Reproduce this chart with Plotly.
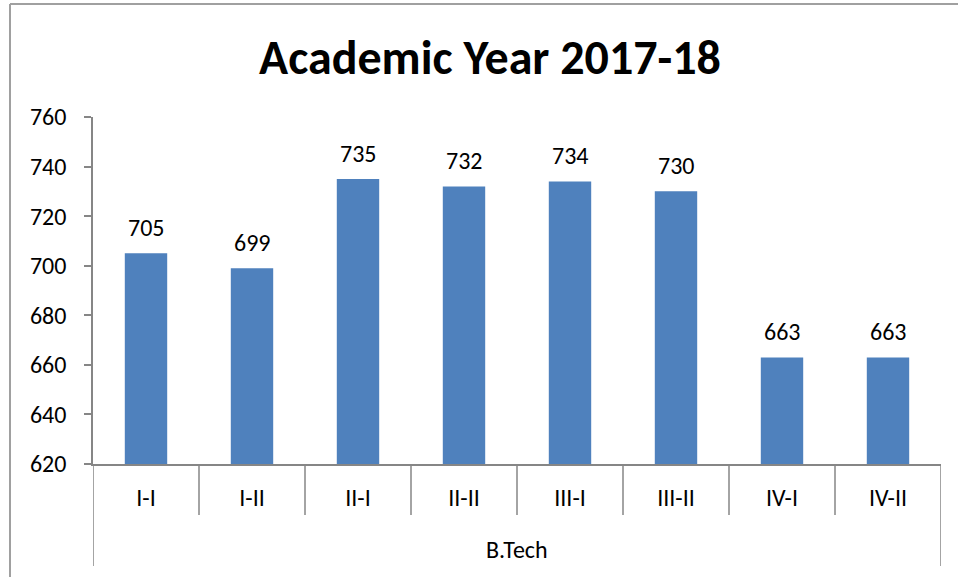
import plotly.graph_objects as go

categories = ["I-I", "I-II", "II-I", "II-II", "III-I", "III-II", "IV-I", "IV-II"]
values = [705, 699, 735, 732, 734, 730, 663, 663]
group_label = "B.Tech"
title_text = "Academic Year 2017-18"
y_ticks = [620, 640, 660, 680, 700, 720, 740, 760]

W, H = 958, 577
L, R, T, B = 93, 17, 117, 113
pw, ph = W - L - R, H - T - B

def px_x(p):
    return (p - L) / pw

def px_y(p):
    return (H - B - p) / ph

FONT = "Calibri, Carlito, Open Sans, sans-serif"
GRAY = "#868686"

fig = go.Figure(go.Bar(
    x=list(range(len(categories))), y=values,
    marker=dict(color="#4F81BD", line=dict(width=0)),
    width=0.4, hoverinfo="x+y",
))

shapes = []
n = len(categories)
for i in range(n + 1):
    bottom = px_y(566) if i in (0, n) else px_y(515)
    shapes.append(dict(type="line", xref="x", yref="paper",
                       x0=i - 0.5, x1=i - 0.5, y0=0, y1=bottom,
                       line=dict(color=GRAY, width=1.5)))
# outer chart border (left and top)
shapes.append(dict(type="line", xref="paper", yref="paper",
                   x0=px_x(10), x1=px_x(10), y0=px_y(4), y1=px_y(600),
                   line=dict(color="#A0A0A0", width=2)))
shapes.append(dict(type="line", xref="paper", yref="paper",
                   x0=px_x(10), x1=px_x(990), y0=px_y(4), y1=px_y(4),
                   line=dict(color="#A0A0A0", width=2)))

annotations = [dict(text=group_label, xref="paper", yref="paper",
                    x=0.5, y=px_y(549), yanchor="middle", showarrow=False,
                    font=dict(family=FONT, size=24, color="black"))]
for i, v in enumerate(values):
    annotations.append(dict(text=str(v), x=i, y=v, xref="x", yref="y",
                            yanchor="bottom", yshift=9, showarrow=False,
                            font=dict(family=FONT, size=24, color="black")))

fig.update_layout(
    width=W, height=H,
    margin=dict(l=L, r=R, t=T, b=B),
    paper_bgcolor="white", plot_bgcolor="white",
    showlegend=False,
    title=dict(text="<b>" + title_text + "</b>", x=px_x(490), xanchor="center",
               xref="paper", y=1 - 57 / H, yanchor="middle",
               font=dict(family=FONT, size=48, color="black")),
    xaxis=dict(tickmode="array", tickvals=list(range(n)), ticktext=categories,
               range=[-0.5, n - 0.5], showgrid=False, ticks="",
               showline=True, linecolor=GRAY, linewidth=1.5,
               ticklabelstandoff=11,
               tickfont=dict(family=FONT, size=24, color="black")),
    yaxis=dict(range=[620, 760], tickvals=y_ticks, showgrid=False, zeroline=False,
               showline=True, linecolor=GRAY, linewidth=1.5,
               ticks="outside", ticklen=7, tickcolor=GRAY, tickwidth=1.5,
               ticklabelstandoff=13,
               tickfont=dict(family=FONT, size=24, color="black")),
    shapes=shapes, annotations=annotations,
)

fig.write_html("out.html", config={"displayModeBar": False},
               post_script="document.body.style.margin='0';document.body.style.overflow='hidden';")
